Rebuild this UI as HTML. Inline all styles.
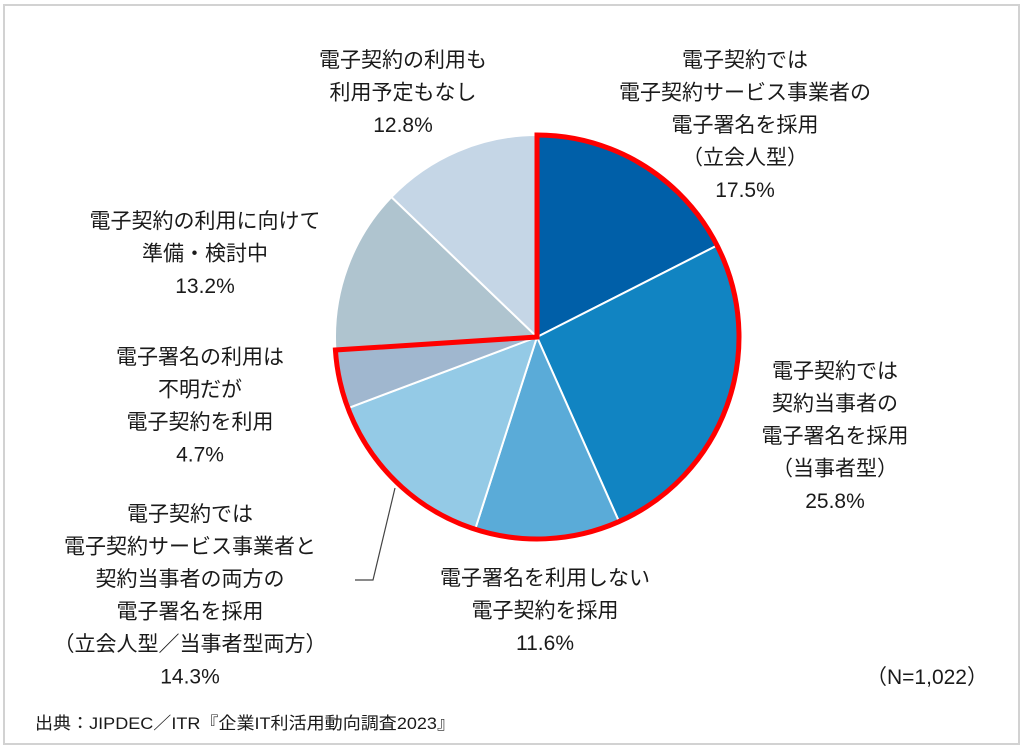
<!DOCTYPE html>
<html><head><meta charset="utf-8"><style>
html,body{margin:0;padding:0;background:#fff;}
body{width:1024px;height:748px;position:relative;overflow:hidden;font-family:"Liberation Sans","Noto Sans CJK JP",sans-serif;}
.frame{position:absolute;left:3px;top:4px;width:1013px;height:737px;border:2px solid #d2d2d2;}
svg{position:absolute;left:0;top:0;}
text{font-family:"Liberation Sans","Noto Sans CJK JP",sans-serif;fill:#1a1a1a;}
</style></head><body>
<div class="frame"></div>
<svg id="chart" width="1024" height="748"></svg>
<script>
const categories = [
 ["電子契約では","電子契約サービス事業者の","電子署名を採用","（立会人型）"],
 ["電子契約では","契約当事者の","電子署名を採用","（当事者型）"],
 ["電子署名を利用しない","電子契約を採用"],
 ["電子契約では","電子契約サービス事業者と","契約当事者の両方の","電子署名を採用","（立会人型／当事者型両方）"],
 ["電子署名の利用は","不明だが","電子契約を利用"],
 ["電子契約の利用に向けて","準備・検討中"],
 ["電子契約の利用も","利用予定もなし"]
];
const values = [17.5, 25.8, 11.6, 14.3, 4.7, 13.2, 12.8];
const highlighted = [true, true, true, true, true, false, false];
const colors = ["#005fa8","#1184c2","#5aabd8","#94cae6","#a0b7cf","#afc4cf","#c5d6e6"];
const labelPos = [[745,60],[835,371],[545,578],[190,514],[200,357],[205,221],[403,60]];

const NS="http://www.w3.org/2000/svg";
const svg=document.getElementById('chart');
const cx=537, cy=337, r=202;
const total=values.reduce((a,b)=>a+b,0);
function pt(frac){const a=frac*2*Math.PI-Math.PI/2;return [cx+r*Math.cos(a), cy+r*Math.sin(a)];}
let acc=0;
values.forEach((v,i)=>{
  const s=acc/total, e=(acc+v)/total; acc+=v;
  const [x1,y1]=pt(s),[x2,y2]=pt(e);
  const large=(e-s)>0.5?1:0;
  const p=document.createElementNS(NS,'path');
  p.setAttribute('d',`M${cx},${cy}L${x1},${y1}A${r},${r} 0 ${large} 1 ${x2},${y2}Z`);
  p.setAttribute('fill',colors[i]);
  p.setAttribute('stroke','#fff');
  p.setAttribute('stroke-width','2');
  
  
  svg.appendChild(p);
});
let hsum=0; values.forEach((v,i)=>{if(highlighted[i])hsum+=v;});
{
  const e=hsum/total; const [x1,y1]=pt(0),[x2,y2]=pt(e);
  const o=document.createElementNS(NS,'path');
  o.setAttribute('d',`M${cx},${cy}L${x1},${y1}A${r},${r} 0 ${e>0.5?1:0} 1 ${x2},${y2}Z`);
  o.setAttribute('fill','none');
  o.setAttribute('stroke','#ff0000');
  o.setAttribute('stroke-width','5');
  o.setAttribute('stroke-linejoin','miter');
  
  
  svg.appendChild(o);
}
const ll=document.createElementNS(NS,'polyline');
ll.setAttribute('points','395,488 373,580 355,580');
ll.setAttribute('fill','none');ll.setAttribute('stroke','#444');ll.setAttribute('stroke-width','1.2');


svg.appendChild(ll);
categories.forEach((lines,i)=>{
  const g=document.createElementNS(NS,'text');
  
  
  g.setAttribute('text-anchor','middle');
  g.setAttribute('font-size','21');
  const all=lines.concat([values[i].toFixed(1)+'%']);
  all.forEach((t,j)=>{
    const ts=document.createElementNS(NS,'tspan');
    ts.setAttribute('x',labelPos[i][0]);
    ts.setAttribute('y',labelPos[i][1]+7+j*32.5);
    ts.textContent=t;
    g.appendChild(ts);
  });
  svg.appendChild(g);
});
</script>
<svg width="1024" height="748" style="pointer-events:none">
<text x="927" y="684" font-size="21" text-anchor="middle">（N=1,022）</text>
<text x="35" y="729" font-size="17" textLength="420" lengthAdjust="spacingAndGlyphs">出典：JIPDEC／ITR『企業IT利活用動向調査2023』</text>
</svg>
</body></html>
